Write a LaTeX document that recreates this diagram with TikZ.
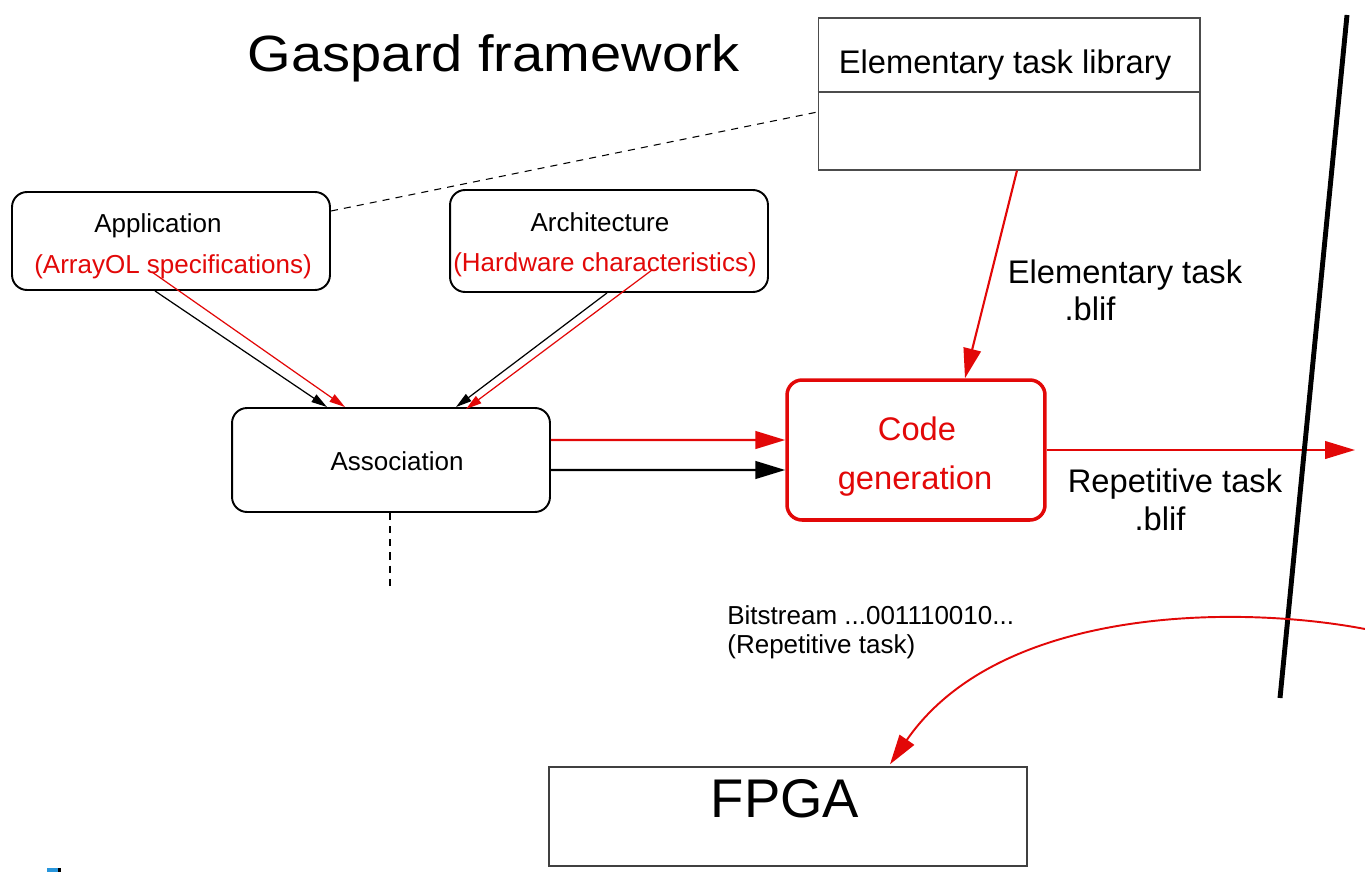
\documentclass[tikz,border=0pt]{standalone}
\usepackage{fontspec}
\setmainfont{Liberation Sans}
\usepackage{graphicx}
\usetikzlibrary{arrows.meta}
\definecolor{myred}{RGB}{226,8,8}
\definecolor{myblue}{RGB}{40,150,220}
\begin{document}
\begin{tikzpicture}[x=0.02cm,y=-0.02cm,
  rbox/.style={draw, line width=1.1pt, rounded corners=0.3cm, minimum width=6.36cm, inner sep=0pt},
  txt/.style={anchor=base, inner sep=0pt},
  smallf/.style={font=\fontsize{14.8}{17}\selectfont},
  midf/.style={font=\fontsize{18.6}{22}\selectfont},
  bigtip/.style={-{Triangle[length=17pt,width=10pt]}},
  smalltip/.style={-{Triangle[length=9pt,width=5pt]}},
  dashline/.style={line width=0.6pt, dash pattern=on 4pt off 3.5pt}]
\useasboundingbox (0,0) rectangle (1365,872);

% title
\node[txt, font=\fontsize{29}{34}\selectfont] (title) at (494,71) {\scalebox{1.1}[1]{Gaspard framework}};

% library
\node[draw=black!70, line width=0.6pt, minimum width=7.64cm, minimum height=3.04cm, inner sep=0pt] (lib) at (1009,94) {};
\draw[black!70, line width=0.6pt] (lib.west |- 0,92) -- (lib.east |- 0,92);
\node[txt, midf] (libt) at (1005,73) {Elementary task library};

% boxes
\node[rbox, minimum height=1.96cm] (app) at (171,241) {};
\node[rbox, minimum height=2.04cm] (arch) at (609,241) {};
\node[rbox, minimum height=2.08cm] (assoc) at (391,460) {};
\node[draw=myred, line width=2pt, rounded corners=0.3cm, minimum width=5.16cm, minimum height=2.8cm, inner sep=0pt] (code) at (916,450) {};
\node[draw=black!75, line width=0.8pt, minimum width=9.56cm, minimum height=1.98cm, inner sep=0pt] (fpga) at (788,816.5) {};

% texts
\node[txt, smallf] (appt) at (158,232) {Application};
\node[txt, smallf, text=myred] (appr) at (173,273) {(ArrayOL specifications)};
\node[txt, smallf] (archt) at (600,231) {Architecture};
\node[txt, smallf, text=myred] (archr) at (605,271) {(Hardware characteristics)};
\node[txt, smallf] (assoct) at (397,470) {Association};
\node[txt, midf, text=myred] (codet1) at (917,440) {Code};
\node[txt, midf, text=myred] (codet2) at (915,489) {generation};
\node[txt, midf] (el1) at (1125,283) {Elementary task};
\node[txt, midf] (el2) at (1090,320) {.blif};
\node[txt, midf] (rep1) at (1175,492) {Repetitive task};
\node[txt, midf] (rep2) at (1160,530) {.blif};
\node[anchor=base west, inner sep=0pt, smallf] (bit1) at (727,624) {Bitstream ...001110010...};
\node[anchor=base west, inner sep=0pt, smallf] (bit2) at (727,653) {(Repetitive task)};
\node[txt, font=\fontsize{31}{36}\selectfont] (fpgat) at (785,817) {FPGA};

% coordinates
\coordinate (appred) at (152,272);
\coordinate (archred) at (652,270);
\coordinate (assocend) at (390,590);
\coordinate (rightend) at (1355,450);
\coordinate (ltop) at (1347,15);
\coordinate (lbot) at (1280,698);
\coordinate (cstart) at (1365,629);

% dashed lines
\draw[dashline] ([yshift=0.6cm]app.east) -- ([yshift=-0.36cm]lib.west);
\draw[dashline] (assoc.south -| assocend) -- (assocend);

% diagonal arrows
\draw[line width=0.7pt, smalltip] ([xshift=-0.32cm]app.south) -- ([xshift=-1.28cm]assoc.north);
\draw[line width=0.7pt, myred, smalltip] (appred) -- ([xshift=-0.92cm]assoc.north);
\draw[line width=0.7pt, smalltip] ([xshift=-0.04cm]arch.south) -- ([xshift=1.3cm]assoc.north);
\draw[line width=0.7pt, myred, smalltip] (archred) -- ([xshift=1.5cm,yshift=-0.04cm]assoc.north);

% association -> code
\draw[line width=1.4pt, myred, bigtip] ([yshift=0.4cm]assoc.east) -- ([yshift=0.2cm]code.west);
\draw[line width=1.4pt, bigtip] ([yshift=-0.2cm]assoc.east) -- ([yshift=-0.4cm]code.west);

% library -> code
\draw[line width=1.2pt, myred, bigtip] ([xshift=0.16cm]lib.south) -- ([xshift=0.98cm]code.north);

% code -> right
\draw[line width=1.2pt, myred, bigtip] (code.east) -- (rightend);

% black separator line
\draw[line width=2.8pt] (ltop) -- (lbot);

% curve to FPGA
\draw[line width=1.1pt, myred, bigtip] (cstart) .. controls (1240,605) and (1000,605) .. ([xshift=2.04cm,yshift=0.04cm]fpga.north);

% blue mark
\fill[myblue] (47,868) rectangle (58,872);
\fill[black] (58,868) rectangle (61,872);
\end{tikzpicture}
\end{document}
